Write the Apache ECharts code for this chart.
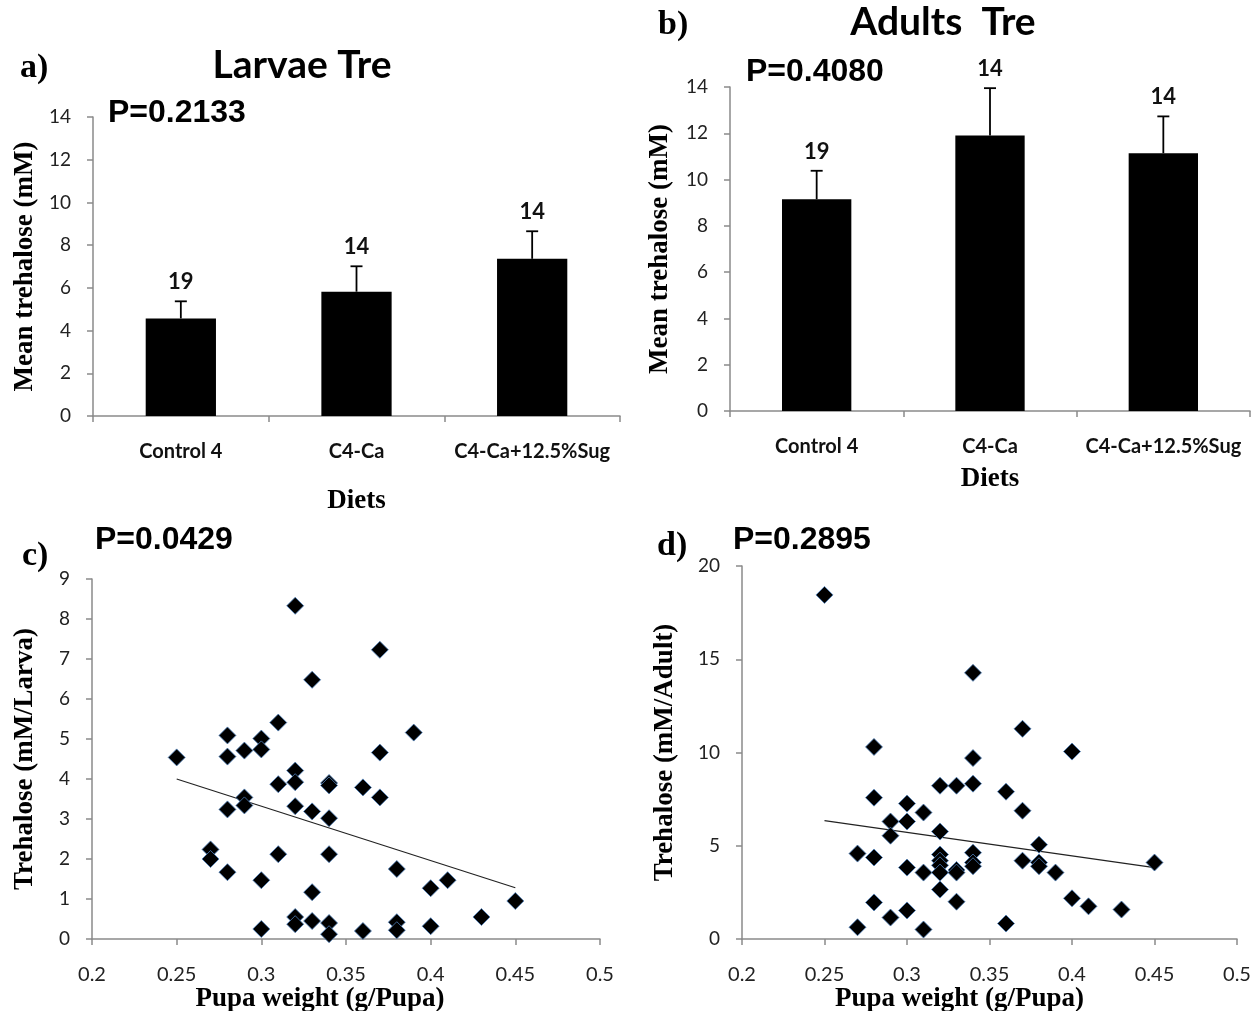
<!DOCTYPE html>
<html><head><meta charset="utf-8">
<script src="https://cdn.jsdelivr.net/npm/echarts@6/dist/echarts.min.js"></script>
<style>html,body{margin:0;padding:0;background:#fff}#c{width:1255px;height:1011px}</style>
</head><body><div id="c"></div>
<script>
// ---- data ----
const diets = ['Control 4', 'C4-Ca', 'C4-Ca+12.5%Sug'];
const larvaeMean = [4.57, 5.82, 7.36];
const larvaeErrTop = [5.37, 7.01, 8.65];
const larvaeN = [19, 14, 14];
const adultMean = [9.15, 11.9, 11.14];
const adultErrTop = [10.38, 13.95, 12.73];
const adultN = [19, 14, 14];

const larvaPupaWeight = [0.25, 0.27, 0.27, 0.28, 0.28, 0.28, 0.28, 0.29, 0.29, 0.29,
  0.30, 0.30, 0.30, 0.30, 0.31, 0.31, 0.31, 0.32, 0.32, 0.32, 0.32, 0.32, 0.32,
  0.33, 0.33, 0.33, 0.33, 0.34, 0.34, 0.34, 0.34, 0.34, 0.34, 0.36, 0.36,
  0.37, 0.37, 0.37, 0.38, 0.38, 0.38, 0.39, 0.40, 0.40, 0.41, 0.43, 0.45];
const larvaTre = [4.54, 2.24, 2.0, 5.09, 4.56, 3.24, 1.67, 4.71, 3.54, 3.34,
  5.01, 4.74, 1.47, 0.25, 5.41, 3.87, 2.12, 8.33, 4.21, 3.92, 3.32, 0.55, 0.37,
  6.48, 3.19, 1.17, 0.45, 3.9, 3.84, 3.02, 2.12, 0.4, 0.12, 3.79, 0.2,
  7.23, 4.66, 3.54, 1.75, 0.42, 0.22, 5.16, 1.27, 0.32, 1.47, 0.55, 0.95];
const larvaTrend = [[0.25, 4.0], [0.45, 1.28]];

const adultPupaWeight = [0.25, 0.27, 0.27, 0.28, 0.28, 0.28, 0.28, 0.29, 0.29, 0.29,
  0.30, 0.30, 0.30, 0.30, 0.31, 0.31, 0.31, 0.32, 0.32, 0.32, 0.32, 0.32, 0.32, 0.32,
  0.33, 0.33, 0.33, 0.33, 0.34, 0.34, 0.34, 0.34, 0.34, 0.34, 0.36, 0.36,
  0.37, 0.37, 0.37, 0.38, 0.38, 0.38, 0.39, 0.40, 0.40, 0.41, 0.43, 0.45];
const adultTre = [18.45, 4.58, 0.63, 10.3, 7.58, 4.37, 1.96, 6.3, 5.54, 1.15,
  7.26, 6.3, 3.83, 1.53, 6.78, 3.56, 0.51, 8.22, 5.76, 4.53, 4.2, 3.95, 3.56, 2.65,
  8.22, 3.7, 3.56, 2.0, 14.27, 9.7, 8.33, 4.63, 4.1, 3.9, 7.9, 0.83,
  11.27, 6.88, 4.2, 5.06, 4.1, 3.9, 3.56, 10.05, 2.18, 1.75, 1.58, 4.1];
const adultTrend = [[0.25, 6.35], [0.45, 3.83]];

// ---- styles ----
const AX = '#8a8a8a';
const SANS = 'Lato, "Open Sans", sans-serif';
const SERIF = '"Liberation Serif", "DejaVu Serif", serif';
const ARIAL = '"Liberation Sans", Arial, sans-serif';
const axisLine = {show: true, lineStyle: {color: AX, width: 1.5}};
const axisTick = {show: true, inside: false, length: 6, lineStyle: {color: AX, width: 1.5}};
const tickLabel = {color: '#222', fontFamily: SANS, fontSize: 19};
const nameStyle = {fontFamily: SERIF, fontWeight: 'bold', fontSize: 27, color: '#000'};

function catAxis(gi, gap) {
  return {type: 'category', gridIndex: gi, data: diets, axisLine, axisTick,
    axisLabel: Object.assign({}, tickLabel, {fontWeight: 'bold', fontSize: 20, margin: 26, interval: 0, color: '#111'}),
    name: 'Diets', nameLocation: 'middle', nameGap: gap, nameTextStyle: nameStyle,
    splitLine: {show: false}};
}
function valAxis(gi, min, max, interval, name, gap, extra) {
  return Object.assign({type: 'value', gridIndex: gi, min, max, interval, axisLine, axisTick,
    axisLabel: Object.assign({}, tickLabel, {margin: 22}),
    name, nameLocation: 'middle', nameGap: gap, nameTextStyle: nameStyle,
    splitLine: {show: false}}, extra || {});
}
function errSeries(gi, means, tops, ns) {
  return {type: 'custom', xAxisIndex: gi, yAxisIndex: gi, z: 5,
    data: means.map((m, i) => [i, m, tops[i], ns[i]]),
    renderItem(params, api) {
      const b = api.coord([api.value(0), api.value(1)]);
      const t = api.coord([api.value(0), api.value(2)]);
      return {type: 'group', children: [
        {type: 'line', shape: {x1: b[0], y1: b[1], x2: t[0], y2: t[1]}, style: {stroke: '#000', lineWidth: 1.8}},
        {type: 'line', shape: {x1: t[0] - 6, y1: t[1], x2: t[0] + 6, y2: t[1]}, style: {stroke: '#000', lineWidth: 1.8}},
        {type: 'text', x: t[0], y: t[1] - 19, style: {text: String(api.value(3)), align: 'center', verticalAlign: 'middle',
          font: 'bold 22px Lato, sans-serif', fill: '#111'}}
      ]};
    }};
}
function scatterSeries(gi, xs, ys) {
  return {type: 'scatter', xAxisIndex: gi, yAxisIndex: gi, symbol: 'diamond', symbolSize: [17, 17],
    itemStyle: {color: '#000', opacity: 1, borderColor: '#4f81bd', borderWidth: 0.8},
    data: xs.map((x, i) => [x, ys[i]])};
}
function trendSeries(gi, pts) {
  return {type: 'line', xAxisIndex: gi, yAxisIndex: gi, data: pts, symbol: 'none', z: 1,
    lineStyle: {color: '#222', width: 1.2}};
}
function txt(x, y, text, font, align) {
  return {type: 'text', x, y, style: {text, font, fill: '#000', align: align || 'left', verticalAlign: 'middle'}};
}

const xLab = Object.assign({}, tickLabel, {fontSize: 20, margin: 26});

const chart = echarts.init(document.getElementById('c'));
chart.setOption({
  backgroundColor: '#fff',
  animation: false,
  grid: [
    {left: 93, top: 117, width: 527, height: 299, outerBoundsMode: 'none'},
    {left: 730, top: 87, width: 520, height: 324, outerBoundsMode: 'none'},
    {left: 92, top: 579, width: 508, height: 360, outerBoundsMode: 'none'},
    {left: 742, top: 566, width: 495, height: 373, outerBoundsMode: 'none'}
  ],
  xAxis: [
    catAxis(0, 72),
    catAxis(1, 55),
    valAxis(2, 0.2, 0.5, 0.05, 'Pupa weight (g/Pupa)', 44, {axisLabel: xLab, nameTextStyle: Object.assign({}, nameStyle, {padding: [0, 52, 0, 0]})}),
    valAxis(3, 0.2, 0.5, 0.05, 'Pupa weight (g/Pupa)', 44, {axisLabel: xLab, nameTextStyle: Object.assign({}, nameStyle, {padding: [0, 60, 0, 0]})})
  ],
  yAxis: [
    valAxis(0, 0, 14, 2, 'Mean trehalose (mM)', 54),
    valAxis(1, 0, 14, 2, 'Mean trehalose (mM)', 56),
    valAxis(2, 0, 9, 1, 'Trehalose (mM/Larva)', 53),
    valAxis(3, 0, 20, 5, 'Trehalose (mM/Adult)', 63)
  ],
  series: [
    {type: 'bar', xAxisIndex: 0, yAxisIndex: 0, data: larvaeMean, barWidth: '40%', itemStyle: {color: '#000'}},
    errSeries(0, larvaeMean, larvaeErrTop, larvaeN),
    {type: 'bar', xAxisIndex: 1, yAxisIndex: 1, data: adultMean, barWidth: '40%', itemStyle: {color: '#000'}},
    errSeries(1, adultMean, adultErrTop, adultN),
    trendSeries(2, larvaTrend),
    scatterSeries(2, larvaPupaWeight, larvaTre),
    trendSeries(3, adultTrend),
    scatterSeries(3, adultPupaWeight, adultTre)
  ],
  graphic: [
    txt(20, 68, 'a)', 'bold 34px ' + SERIF),
    txt(302, 65, 'Larvae Tre', 'bold 39px ' + SANS, 'center'),
    txt(108, 113, 'P=0.2133', 'bold 32px ' + ARIAL),
    txt(658, 25, 'b)', 'bold 34px ' + SERIF),
    txt(943, 22, 'Adults  Tre', 'bold 39px ' + SANS, 'center'),
    txt(746, 72, 'P=0.4080', 'bold 32px ' + ARIAL),
    txt(22, 556, 'c)', 'bold 34px ' + SERIF),
    txt(95, 540, 'P=0.0429', 'bold 32px ' + ARIAL),
    txt(657, 546, 'd)', 'bold 34px ' + SERIF),
    txt(733, 540, 'P=0.2895', 'bold 32px ' + ARIAL)
  ]
});
</script>
</body></html>
